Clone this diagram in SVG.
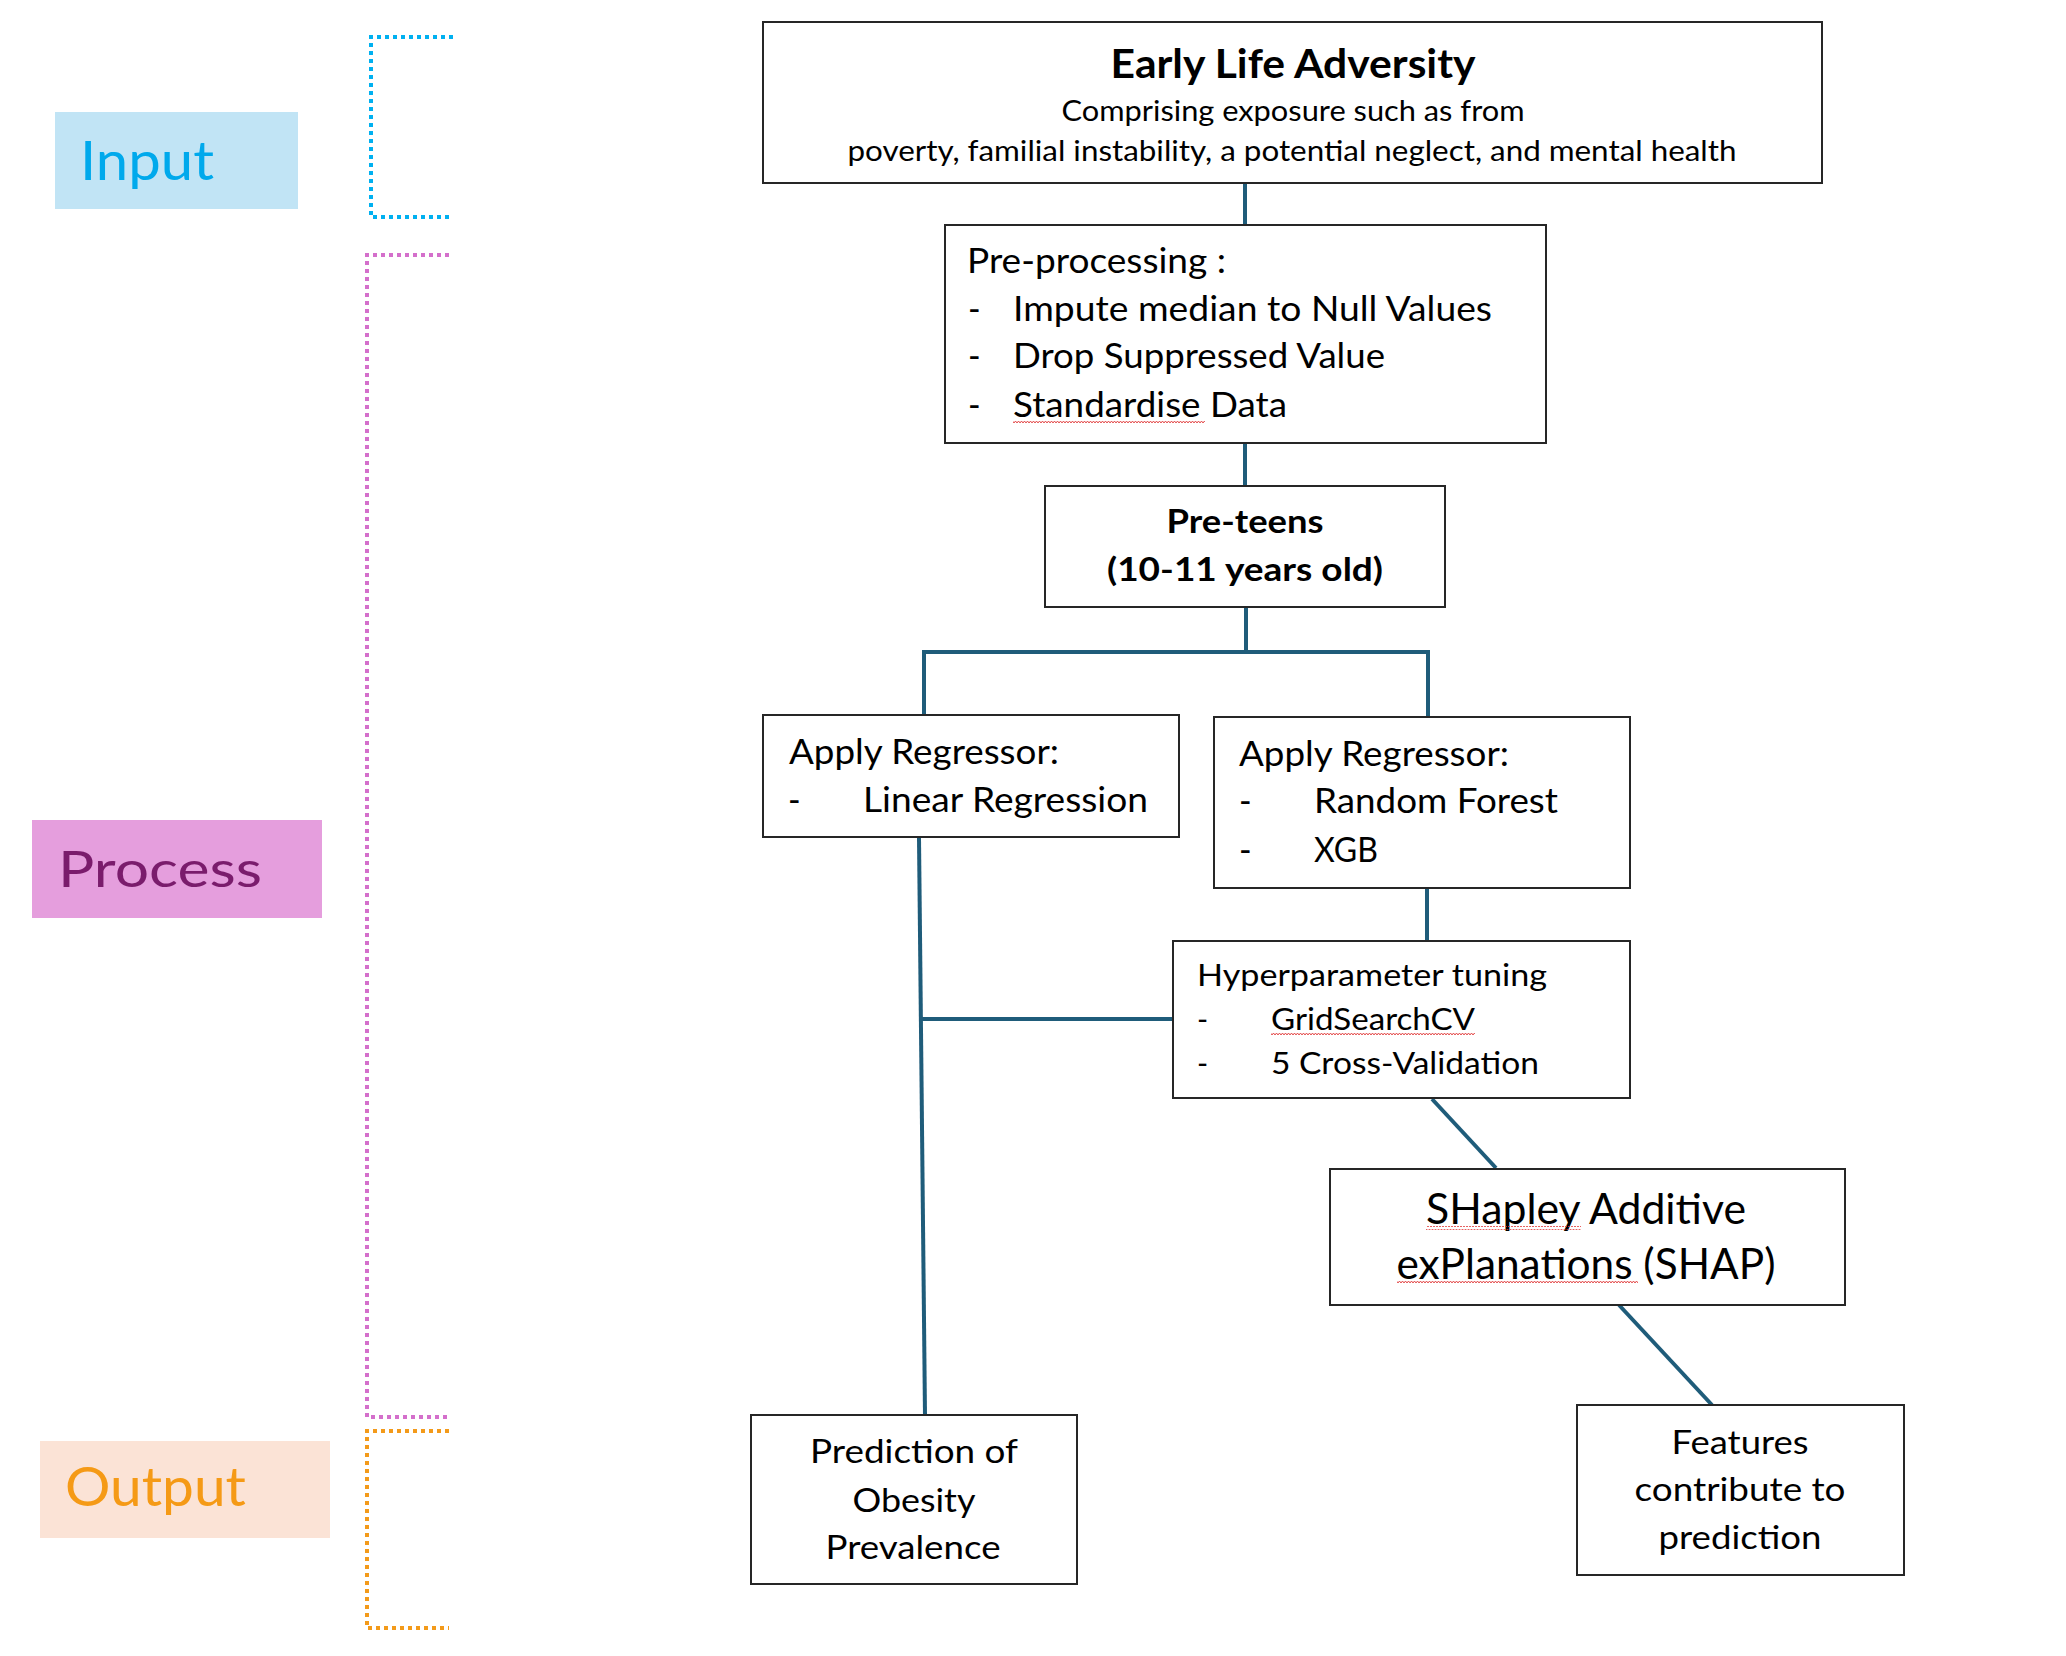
<svg xmlns="http://www.w3.org/2000/svg" width="2066" height="1656" viewBox="0 0 2066 1656">
<defs>
<pattern id="squig" width="6" height="4" patternUnits="userSpaceOnUse"><path d="M0 3 L1.5 1 L3 3 L4.5 1 L6 3" fill="none" stroke="#E03A3A" stroke-width="0.9"/></pattern>
</defs>
<style>
.box{fill:#ffffff;stroke:#262626;stroke-width:2}
.t{font-family:Lato,'Liberation Sans',sans-serif;fill:#000000}
.b{font-weight:bold}
.c{text-anchor:middle}
.con{fill:none;stroke:#1F5C7A;stroke-width:4}
.dot{fill:none;stroke-width:4;stroke-dasharray:4 4}
.sq{fill:url(#squig)}
</style>
<rect width="2066" height="1656" fill="#ffffff"/>

<g id="stage-input">
<rect x="55" y="112" width="243" height="97" fill="#C1E4F5"/>
<text class="t" x="80" y="180" font-size="55" fill="#00A9EC" style="fill:#00A9EC" textLength="134" lengthAdjust="spacingAndGlyphs">Input</text>
<path class="dot" stroke="#00B0F0" d="M453 37 H371 V217 H453"/>
</g>
<g id="stage-process">
<rect x="32" y="820" width="290" height="98" fill="#E59EDD"/>
<text class="t" x="58" y="887" font-size="51" style="fill:#7A1C6C" textLength="204" lengthAdjust="spacingAndGlyphs">Process</text>
<path class="dot" stroke="#D46FCB" d="M449 255 H367 V1417 H449"/>
</g>
<g id="stage-output">
<rect x="40" y="1441" width="290" height="97" fill="#FBE3D6"/>
<text class="t" x="65" y="1506" font-size="54" style="fill:#F59A16" textLength="181" lengthAdjust="spacingAndGlyphs">Output</text>
<path class="dot" stroke="#F39A1A" d="M449 1431 H367 V1628 H449"/>
</g>

<g id="connectors">
<line class="con" x1="1245" y1="183" x2="1245" y2="225"/>
<line class="con" x1="1245" y1="443" x2="1245" y2="486"/>
<path class="con" d="M1246 607 V652 M924 652 H1428 M924 650 V715 M1428 650 V717"/>
<line class="con" x1="919" y1="838" x2="925" y2="1415"/>
<line class="con" x1="921" y1="1019" x2="1173" y2="1019"/>
<line class="con" x1="1427" y1="888" x2="1427" y2="941"/>
<line class="con" x1="1432" y1="1099" x2="1496" y2="1168"/>
<line class="con" x1="1619" y1="1305" x2="1712" y2="1405"/>
</g>

<g id="node-adversity">
<rect class="box" x="763" y="22" width="1059" height="161"/>
<text class="t b c" x="1293" y="78" font-size="41" textLength="365" lengthAdjust="spacingAndGlyphs">Early Life Adversity</text>
<text class="t c" x="1293" y="121" font-size="29" textLength="463" lengthAdjust="spacingAndGlyphs">Comprising exposure such as from</text>
<text class="t c" x="1292" y="161" font-size="29" textLength="889" lengthAdjust="spacingAndGlyphs">poverty, familial instability, a potential neglect, and mental health</text>
</g>

<g id="node-preprocessing">
<rect class="box" x="945" y="225" width="601" height="218"/>
<text class="t" x="967" y="273" font-size="34" textLength="259" lengthAdjust="spacingAndGlyphs">Pre-processing :</text>
<text class="t" x="968" y="321" font-size="34">-</text>
<text class="t" x="1013" y="321" font-size="34" textLength="479" lengthAdjust="spacingAndGlyphs">Impute median to Null Values</text>
<text class="t" x="968" y="368" font-size="34">-</text>
<text class="t" x="1013" y="368" font-size="34" textLength="372" lengthAdjust="spacingAndGlyphs">Drop Suppressed Value</text>
<text class="t" x="968" y="417" font-size="34">-</text>
<text class="t" x="1013" y="417" font-size="34" textLength="274" lengthAdjust="spacingAndGlyphs">Standardise Data</text>
<rect class="sq" x="1013" y="420" width="192" height="4"/>
</g>

<g id="node-preteens">
<rect class="box" x="1045" y="486" width="400" height="121"/>
<text class="t b c" x="1245" y="533" font-size="33" textLength="157" lengthAdjust="spacingAndGlyphs">Pre-teens</text>
<text class="t b c" x="1245" y="581" font-size="33" textLength="276" lengthAdjust="spacingAndGlyphs">(10-11 years old)</text>
</g>

<g id="node-linear">
<rect class="box" x="763" y="715" width="416" height="122"/>
<text class="t" x="789" y="764" font-size="34" textLength="270" lengthAdjust="spacingAndGlyphs">Apply Regressor:</text>
<text class="t" x="788" y="812" font-size="34">-</text>
<text class="t" x="863" y="812" font-size="34" textLength="285" lengthAdjust="spacingAndGlyphs">Linear Regression</text>
</g>

<g id="node-rf-xgb">
<rect class="box" x="1214" y="717" width="416" height="171"/>
<text class="t" x="1239" y="766" font-size="34" textLength="270" lengthAdjust="spacingAndGlyphs">Apply Regressor:</text>
<text class="t" x="1239" y="813" font-size="34">-</text>
<text class="t" x="1314" y="813" font-size="34" textLength="244" lengthAdjust="spacingAndGlyphs">Random Forest</text>
<text class="t" x="1239" y="862" font-size="34">-</text>
<text class="t" x="1314" y="862" font-size="34" textLength="64" lengthAdjust="spacingAndGlyphs">XGB</text>
</g>

<g id="node-hyperparameter">
<rect class="box" x="1173" y="941" width="457" height="157"/>
<text class="t" x="1197" y="986" font-size="30" textLength="350" lengthAdjust="spacingAndGlyphs">Hyperparameter tuning</text>
<text class="t" x="1197" y="1030" font-size="30">-</text>
<text class="t" x="1271" y="1030" font-size="30" textLength="204" lengthAdjust="spacingAndGlyphs">GridSearchCV</text>
<rect class="sq" x="1271" y="1033" width="204" height="4"/>
<text class="t" x="1197" y="1074" font-size="30">-</text>
<text class="t" x="1271" y="1074" font-size="30" textLength="268" lengthAdjust="spacingAndGlyphs">5 Cross-Validation</text>
</g>

<g id="node-shap">
<rect class="box" x="1330" y="1169" width="515" height="136"/>
<text class="t c" x="1586" y="1224" font-size="42" textLength="320" lengthAdjust="spacingAndGlyphs">SHapley Additive</text>
<rect class="sq" x="1426" y="1226" width="155" height="4"/>
<text class="t c" x="1586" y="1279" font-size="42" textLength="379" lengthAdjust="spacingAndGlyphs">exPlanations (SHAP)</text>
<rect class="sq" x="1397" y="1281" width="241" height="4"/>
</g>

<g id="node-prediction">
<rect class="box" x="751" y="1415" width="326" height="169"/>
<text class="t c" x="914" y="1463" font-size="33" textLength="208" lengthAdjust="spacingAndGlyphs">Prediction of</text>
<text class="t c" x="914" y="1512" font-size="33" textLength="123" lengthAdjust="spacingAndGlyphs">Obesity</text>
<text class="t c" x="913" y="1559" font-size="33" textLength="175" lengthAdjust="spacingAndGlyphs">Prevalence</text>
</g>

<g id="node-features">
<rect class="box" x="1577" y="1405" width="327" height="170"/>
<text class="t c" x="1740" y="1454" font-size="33" textLength="137" lengthAdjust="spacingAndGlyphs">Features</text>
<text class="t c" x="1740" y="1501" font-size="33" textLength="211" lengthAdjust="spacingAndGlyphs">contribute to</text>
<text class="t c" x="1740" y="1549" font-size="33" textLength="163" lengthAdjust="spacingAndGlyphs">prediction</text>
</g>
</svg>
